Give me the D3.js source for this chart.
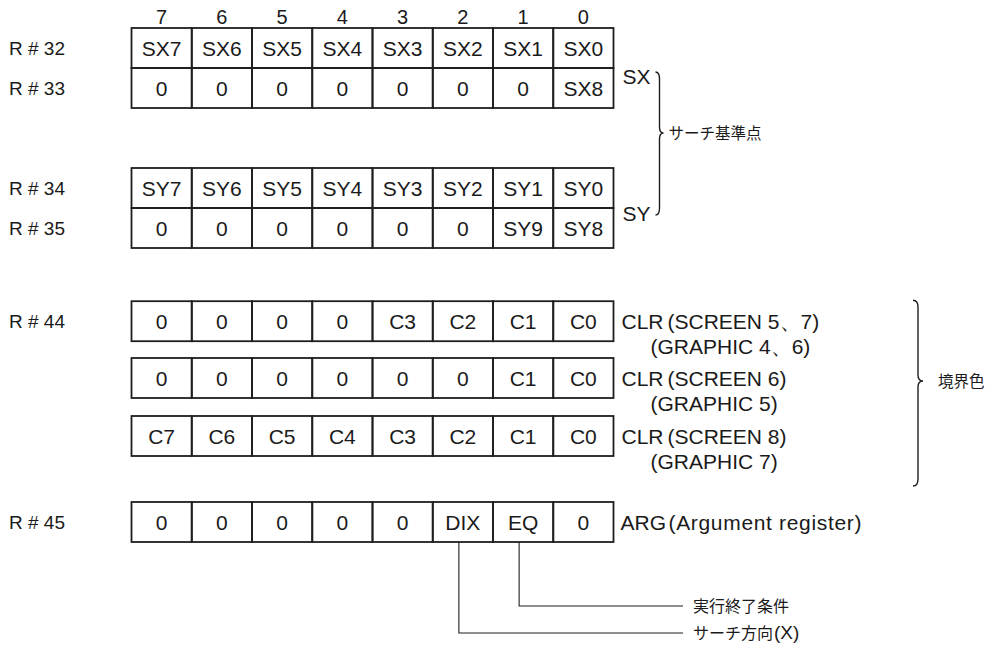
<!DOCTYPE html>
<html><head><meta charset="utf-8">
<script src="https://cdn.jsdelivr.net/npm/d3@7"></script>
<style>
html,body{margin:0;padding:0;background:#fff;}
svg{display:block;}
text{fill:#1a1a1a;}
.lat{font-family:"Liberation Sans",Arial,sans-serif;}
.jp{font-family:"Noto Sans CJK JP","Noto Sans",sans-serif;}
</style></head>
<body>
<svg id="chart" width="990" height="650"></svg>
<script>
// ---------- data ----------
const bitNumbers = ["7","6","5","4","3","2","1","0"];
const regR32  = ["SX7","SX6","SX5","SX4","SX3","SX2","SX1","SX0"];
const regR33  = ["0","0","0","0","0","0","0","SX8"];
const regR34  = ["SY7","SY6","SY5","SY4","SY3","SY2","SY1","SY0"];
const regR35  = ["0","0","0","0","0","0","SY9","SY8"];
const regR44a = ["0","0","0","0","C3","C2","C1","C0"];
const regR44b = ["0","0","0","0","0","0","C1","C0"];
const regR44c = ["C7","C6","C5","C4","C3","C2","C1","C0"];
const regR45  = ["0","0","0","0","0","DIX","EQ","0"];
const rowNames = ["R # 32","R # 33","R # 34","R # 35","R # 44","","","R # 45"];
const pairLabels = ["SX","SY"];
const clrName = "CLR";
const clrScreen = ["(SCREEN 5、7)","(SCREEN 6)","(SCREEN 8)"];
const clrGraphic = ["(GRAPHIC 4、6)","(GRAPHIC 5)","(GRAPHIC 7)"];
const argName = "ARG";
const argDesc = "(Argument register)";
const braceLabels = ["サーチ基準点","境界色"];
const argNotes = [{bit:"1", text:"実行終了条件", suffix:""},{bit:"2", text:"サーチ方向", suffix:"(X)"}];

// ---------- layout ----------
const rows = [regR32, regR33, regR34, regR35, regR44a, regR44b, regR44c, regR45];
const rowSlots = [0, 1, 3.5, 4.5, 6.83, 8.25, 9.7, 11.85];
const svg = d3.select("#chart");
const x = d3.scaleBand().domain(bitNumbers).range([131.5, 613.5]).paddingInner(0).paddingOuter(0);
const y = d3.scaleLinear().domain([0, 1]).range([28, 68]);
const rowH = y(1) - y(0);
const FS = 21;
const ink = "#1e1e1e";

// header bit numbers
svg.selectAll("text.bit").data(bitNumbers).join("text")
  .attr("class","lat bit").attr("x", d => x(d) + x.bandwidth()/2).attr("y", 24)
  .attr("text-anchor","middle").attr("font-size", 20).text(d => d);

// rows
rows.forEach((cells, i) => {
  const top = y(rowSlots[i]);
  const g = svg.append("g");
  g.selectAll("rect").data(cells).join("rect")
    .attr("x", (d, j) => x(bitNumbers[j])).attr("y", top)
    .attr("width", x.bandwidth()).attr("height", rowH)
    .attr("fill","none").attr("stroke",ink).attr("stroke-width",1.8);
  g.selectAll("text").data(cells).join("text")
    .attr("class","lat").attr("font-size", FS)
    .attr("x", (d, j) => x(bitNumbers[j]) + x.bandwidth()/2)
    .attr("y", top + rowH/2 + 7.5).attr("text-anchor","middle").text(d => d);
  if (rowNames[i]) {
    svg.append("text").attr("class","lat").attr("font-size",19)
      .attr("x", 9).attr("y", top + rowH/2 + 7).text(rowNames[i]);
  }
});

const xRight = x.range()[1];
// SX / SY labels
[1, 4.5].forEach((slot, k) => {
  svg.append("text").attr("class","lat").attr("font-size",FS)
    .attr("x", xRight + 9).attr("y", y(slot) + (k === 0 ? 16 : 13)).text(pairLabels[k]);
});

// brace path helper (tip may be off-centre)
function brace(x0, yTop, yMid, yBot, w) {
  return `M${x0 - w},${yTop} Q${x0},${yTop} ${x0},${yTop + 7}` +
         ` L${x0},${yMid - 6} Q${x0},${yMid} ${x0 + w},${yMid}` +
         ` Q${x0},${yMid} ${x0},${yMid + 6}` +
         ` L${x0},${yBot - 7} Q${x0},${yBot} ${x0 - w},${yBot}`;
}
// SX/SY brace
const b1Top = y(1) + 4, b1Bot = y(4.5) + 7, b1Mid = 133;
svg.append("path").attr("d", brace(xRight + 46, b1Top, b1Mid, b1Bot, 4))
  .attr("fill","none").attr("stroke",ink).attr("stroke-width",1.4);
svg.append("text").attr("class","jp").attr("font-size",15.5)
  .attr("x", xRight + 55).attr("y", b1Mid + 6).text(braceLabels[0]);

// CLR labels
[4, 5, 6].forEach((ri, k) => {
  const cy = y(rowSlots[ri]) + rowH/2;
  svg.append("text").attr("class","lat").attr("font-size",FS)
    .attr("x", xRight + 8).attr("y", cy + 7.5).text(clrName);
  svg.append("text").attr("class","lat").attr("font-size",FS)
    .attr("x", xRight + 54).attr("y", cy + 7.5).text(clrScreen[k]);
  svg.append("text").attr("class","lat").attr("font-size",FS)
    .attr("x", xRight + 37).attr("y", cy + 33).text(clrGraphic[k]);
});
// big brace
const b2Top = y(rowSlots[4]) - 1, b2Bot = 486, b2Mid = 381;
svg.append("path").attr("d", brace(918, b2Top, b2Mid, b2Bot, 5))
  .attr("fill","none").attr("stroke",ink).attr("stroke-width",1.4);
svg.append("text").attr("class","jp").attr("font-size",15.5)
  .attr("x", 938).attr("y", b2Mid + 6).text(braceLabels[1]);

// ARG label
const r45Top = y(rowSlots[7]);
svg.append("text").attr("class","lat").attr("font-size",FS)
  .attr("x", xRight + 7).attr("y", r45Top + rowH/2 + 7.5).text(argName);
svg.append("text").attr("class","lat").attr("font-size",FS)
  .attr("x", xRight + 55).attr("y", r45Top + rowH/2 + 7.5)
  .attr("textLength", 193).attr("lengthAdjust","spacing").text(argDesc);

// connectors
const noteY = [606, 633];
argNotes.forEach((n, k) => {
  const cx = x(n.bit) + x.bandwidth()/2 - 4;
  svg.append("path")
    .attr("d", `M${cx},${r45Top + rowH} L${cx},${noteY[k]} L683,${noteY[k]}`)
    .attr("fill","none").attr("stroke",ink).attr("stroke-width",1.1);
  const t = svg.append("text").attr("class","jp").attr("font-size",16)
    .attr("x", 693).attr("y", noteY[k] + 6);
  t.append("tspan").text(n.text);
  if (n.suffix) {
    t.append("tspan").attr("class","lat").attr("font-size",19).attr("dx",1).text(n.suffix);
  }
});
</script>
</body></html>
